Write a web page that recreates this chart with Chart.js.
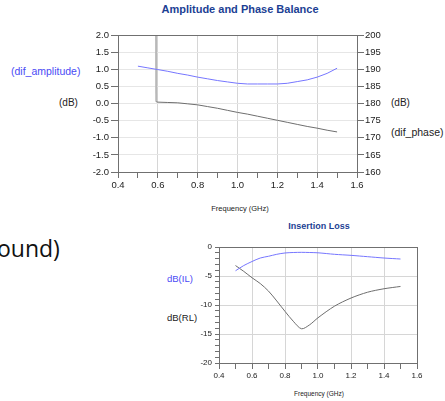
<!DOCTYPE html>
<html>
<head>
<meta charset="utf-8">
<script src="https://cdn.jsdelivr.net/npm/chart.js@4"></script>
<style>
  body { margin: 0; background: #fff; width: 445px; height: 401px; overflow: hidden; position: relative; font-family: "Liberation Sans", Arial, sans-serif; }
  .lbl { position: absolute; white-space: nowrap; transform: translateY(-50%); }
  .ctr { position: absolute; white-space: nowrap; transform: translate(-50%, -50%); }
  .box { position: absolute; }
</style>
</head>
<body>
<div class="ctr" style="left:240px;top:9px;font-weight:bold;font-size:11px;color:#1c3f94">Amplitude and Phase Balance</div>
<div class="lbl" style="left:11px;top:71px;font-size:10.5px;color:#4a4af5">(dif_amplitude)</div>
<div class="lbl" style="left:59px;top:102px;font-size:10px;color:#222">(dB)</div>
<div class="lbl" style="left:391px;top:102px;font-size:10px;color:#222">(dB)</div>
<div class="lbl" style="left:391px;top:132px;font-size:10.5px;color:#222">(dif_phase)</div>
<div class="ctr" style="left:240px;top:208px;font-size:7.5px;color:#222">Frequency (GHz)</div>

<div class="lbl" style="left:-3px;top:248px;font-family:'Open Sans',sans-serif;font-size:23px;color:#111">ound)</div>

<div class="ctr" style="left:319px;top:226px;font-weight:bold;font-size:9px;color:#1c3f94">Insertion Loss</div>
<div class="lbl" style="left:167px;top:278px;font-size:9.5px;color:#4a4af5">dB(IL)</div>
<div class="lbl" style="left:167px;top:317px;font-size:9.5px;color:#222">dB(RL)</div>
<div class="ctr" style="left:319px;top:393px;font-size:6.5px;color:#222">Frequency (GHz)</div>

<div class="box" style="left:80px;top:0px"><canvas id="Chart" width="320" height="215"></canvas></div>
<div class="box" style="left:150px;top:215px"><canvas id="Chart2" width="295" height="186"></canvas></div>

<script>
// amplitude / phase balance
const freqAmp = [0.5,0.55,0.6,0.65,0.7,0.75,0.8,0.85,0.9,0.95,1.0,1.05,1.1,1.15,1.2,1.25,1.3,1.35,1.4,1.45,1.5]
const difAmplitude = [1.09,1.04,0.99,0.94,0.88,0.83,0.77,0.72,0.67,0.63,0.59,0.57,0.57,0.57,0.57,0.59,0.64,0.69,0.77,0.88,1.03]
const freqPhase = [0.59,0.592,0.6,0.65,0.7,0.75,0.8,0.85,0.9,0.95,1.0,1.05,1.1,1.15,1.2,1.25,1.3,1.35,1.4,1.45,1.5]
const difPhase = [230,180.5,180.4,180.3,180.2,179.9,179.6,179.1,178.6,178.0,177.4,176.9,176.3,175.7,175.1,174.5,173.9,173.3,172.8,172.2,171.7]
const ampTicks = [-2.0,-1.5,-1.0,-0.5,0.0,0.5,1.0,1.5,2.0]
const phaseTicks = [160,165,170,175,180,185,190,195,200]

// insertion loss
const freqIL = [0.5,0.55,0.6,0.65,0.7,0.75,0.8,0.85,0.9,0.95,1.0,1.1,1.2,1.3,1.4,1.5]
const dbIL = [-4.1,-3.2,-2.5,-1.9,-1.6,-1.26,-1.03,-0.95,-0.92,-0.95,-1.0,-1.26,-1.44,-1.67,-1.9,-2.07]
const dbRL = [-3.2,-4.2,-5.3,-6.3,-7.6,-9.3,-11.1,-12.8,-14.1,-13.4,-12.2,-10.2,-8.8,-7.8,-7.2,-6.8]
const freqTicks = [0.4,0.6,0.8,1.0,1.2,1.4,1.6]
const lossTicks = [-20,-15,-10,-5,0]

const GRID = '#d6d6d6'
const AXIS = '#707070'
const BLUE = '#7676ff'
const GRAY = '#6e6e6e'

function pts(xs, ys) {
    return xs.map((x, i) => ({x: x, y: ys[i]}))
}

function isMajorFreq(v) {
    return freqTicks.some(t => Math.abs(t - v) < 1e-6)
}

//draw the closed box round the plot
const frame = {
    id: 'frame',
    afterDraw(chart) {
        const a = chart.chartArea
        const ctx = chart.ctx
        ctx.save()
        ctx.strokeStyle = AXIS
        ctx.lineWidth = 1
        ctx.strokeRect(Math.round(a.left) + 0.5, Math.round(a.top) + 0.5, Math.round(a.right - a.left), Math.round(a.bottom - a.top))
        ctx.restore()
    }
}

function freqAxis(fontSize, h) {
    return {
        type: 'linear', min: 0.4, max: 1.6,
        afterFit: (s) => { s.height = h },
        border: {color: AXIS},
        grid: {
            color: (c) => isMajorFreq(c.tick.value) ? GRID : 'rgba(0,0,0,0)',
            tickColor: AXIS, tickLength: 6
        },
        ticks: {
            stepSize: 0.1, autoSkip: false, maxRotation: 0, padding: 2,
            color: '#222', font: {family: 'Liberation Sans', size: fontSize},
            callback: (v) => isMajorFreq(v) ? v.toFixed(1) : ''
        }
    }
}

const topChart = new Chart(document.getElementById('Chart').getContext('2d'), {
    type: 'line',
    data: {
        datasets: [{
            label: 'dif_amplitude',
            data: pts(freqAmp, difAmplitude),
            yAxisID: 'y',
            borderColor: BLUE, borderWidth: 1, pointRadius: 0, tension: 0
        }, {
            label: 'dif_phase',
            data: pts(freqPhase, difPhase),
            yAxisID: 'y2',
            borderColor: GRAY, borderWidth: 1, pointRadius: 0, tension: 0,
            //the jump at the start shows as a pale thick stroke
            segment: {
                borderColor: (c) => c.p0DataIndex === 0 ? '#b8b8b8' : GRAY,
                borderWidth: (c) => c.p0DataIndex === 0 ? 2 : 1
            }
        }]
    },
    options: {
        responsive: false, animation: false,
        layout: {padding: {top: 35, left: 0, right: 0, bottom: 0}},
        plugins: {legend: {display: false}, tooltip: {enabled: false}},
        scales: {
            x: freqAxis(9.5, 43),
            y: {
                min: -2, max: 2,
                afterFit: (s) => { s.width = 38 },
                afterBuildTicks: (s) => { s.ticks = ampTicks.map(v => ({value: v})) },
                border: {color: AXIS},
                grid: {color: '#e6e6e6', tickColor: AXIS, tickLength: 7},
                ticks: {color: '#222', padding: 2, font: {family: 'Liberation Sans', size: 9.5}, callback: (v) => v.toFixed(1)}
            },
            y2: {
                position: 'right', min: 160, max: 200,
                afterFit: (s) => { s.width = 43 },
                afterBuildTicks: (s) => { s.ticks = phaseTicks.map(v => ({value: v})) },
                border: {color: AXIS},
                grid: {drawOnChartArea: false, tickColor: AXIS, tickLength: 7},
                ticks: {color: '#222', padding: 1, font: {family: 'Liberation Sans', size: 9.5}}
            }
        }
    },
    plugins: [frame]
})

const lossChart = new Chart(document.getElementById('Chart2').getContext('2d'), {
    type: 'line',
    data: {
        datasets: [{
            label: 'dB(IL)',
            data: pts(freqIL, dbIL),
            borderColor: BLUE, borderWidth: 1, pointRadius: 0, tension: 0.3
        }, {
            label: 'dB(RL)',
            data: pts(freqIL, dbRL),
            borderColor: GRAY, borderWidth: 1, pointRadius: 0, tension: 0.3
        }]
    },
    options: {
        responsive: false, animation: false,
        layout: {padding: {top: 32, left: 0, right: 28, bottom: 0}},
        plugins: {legend: {display: false}, tooltip: {enabled: false}},
        scales: {
            x: freqAxis(8, 38),
            y: {
                min: -20, max: 0,
                afterFit: (s) => { s.width = 69 },
                border: {color: AXIS},
                grid: {
                    color: (c) => lossTicks.includes(c.tick.value) ? GRID : 'rgba(0,0,0,0)',
                    tickColor: AXIS, tickLength: 4
                },
                ticks: {
                    stepSize: 1, autoSkip: false, color: '#222', padding: 3,
                    font: {family: 'Liberation Sans', size: 8},
                    callback: (v) => lossTicks.includes(v) ? String(v) : ''
                }
            }
        }
    },
    plugins: [frame]
})
</script>
</body>
</html>
